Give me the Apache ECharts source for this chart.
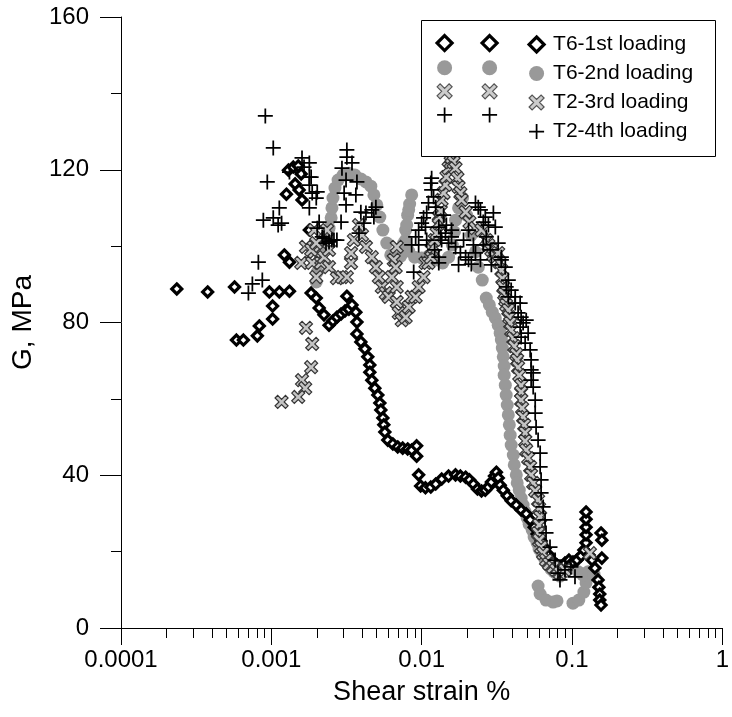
<!DOCTYPE html>
<html><head><meta charset="utf-8">
<script src="https://cdn.jsdelivr.net/npm/echarts@6/dist/echarts.min.js"></script>
<style>html,body{margin:0;padding:0;background:#fff}#c{width:732px;height:717px}</style>
</head><body><div id="c"></div>
<script>
const seriesNames = ['T6-1st loading', 'T6-2nd loading', 'T2-3rd loading', 'T2-4th loading'];
const xTickLabels = ['0.0001', '0.001', '0.01', '0.1', '1'];
const yTickLabels = ['0', '40', '80', '120', '160'];
const minorTickValues = [0.0002,0.0003,0.0004,0.0005,0.0006,0.0007,0.0008,0.0009,
  0.002,0.003,0.004,0.005,0.006,0.007,0.008,0.009,
  0.02,0.03,0.04,0.05,0.06,0.07,0.08,0.09,
  0.2,0.3,0.4,0.5,0.6,0.7,0.8,0.9];

// [shear strain %, G MPa]
const t6First = [
[0.000235,88.8],[0.000377,88.0],[0.000569,89.3],[0.000586,75.4],[0.000652,75.4],[0.000807,76.5],[0.000832,79.1],[0.00102,80.9],[0.00102,84.3],[0.00097,88.0],[0.00113,88.0],[0.00132,88.2],
[0.0013,119.9],[0.0014,120.7],[0.00151,121.0],[0.00158,118.9],[0.00144,116.3],[0.00153,114.7],[0.00126,113.6],[0.0016,112.1],[0.00179,104.2],[0.00122,97.7],[0.00132,95.8],
[0.00184,87.7],[0.00199,86.4],[0.00208,83.8],[0.00224,82.0],[0.00242,79.3],[0.00257,80.4],[0.00273,81.4],[0.00291,82.2],[0.00309,83.0],[0.00328,83.5],[0.00318,86.9],[0.00344,84.6],[0.00365,82.7],[0.00371,80.1],[0.00371,77.0],[0.00394,74.9],[0.00419,73.1],[0.00438,71.0],[0.00452,68.9],[0.00452,67.0],[0.00466,64.9],[0.00488,62.8],[0.00511,61.0],[0.00527,58.9],[0.00535,57.1],[0.00552,55.0],[0.0056,53.2],[0.00569,51.3],[0.00595,49.2],[0.00643,48.2],[0.00693,47.4],[0.00748,47.1],[0.00807,46.9],[0.00858,46.6],[0.00926,47.7],[0.00926,45.0],[0.00955,40.1],[0.00984,37.2],
[0.0106,36.7],[0.0115,36.9],[0.0124,37.7],[0.0136,39.0],[0.0151,39.8],[0.0168,40.1],[0.0181,39.8],[0.0196,39.5],[0.0208,38.8],[0.0221,37.7],[0.0235,36.4],[0.025,35.9],[0.0265,36.1],[0.0278,36.9],[0.0291,38.2],[0.0305,39.8],[0.0314,40.8],[0.0323,39.3],[0.0333,37.4],[0.0349,36.1],[0.0371,34.6],[0.0394,33.3],[0.0426,32.2],[0.0459,30.9],[0.0496,29.9],[0.0527,28.3],[0.056,26.4],[0.0586,24.6],[0.0623,22.8],[0.0662,20.9],[0.0704,19.1],[0.0748,17.5],[0.0795,16.5],[0.0845,16.0],[0.0898,17.0],[0.0955,17.8],[0.1015,17.3],[0.108,17.8],[0.115,18.9],[0.12,20.4],[0.124,22.3],[0.124,24.4],[0.124,26.4],[0.124,28.5],[0.124,30.4],[0.13,19.1],[0.136,17.8],[0.142,15.7],[0.149,12.6],[0.151,10.7],[0.153,8.9],[0.153,7.3],[0.156,6.0],[0.156,24.9],[0.158,23.0],[0.158,18.3]
];
const t6Second = [
[0.00199,90.6],[0.00202,93.2],[0.00208,95.8],[0.00214,98.5],[0.00228,101.6],[0.00242,104.7],[0.0025,107.4],[0.00253,110.0],[0.00257,112.6],[0.00265,115.2],[0.00278,117.3],[0.003,118.6],[0.00328,119.1],[0.0036,118.6],[0.00394,117.6],[0.00426,116.8],[0.00459,115.7],[0.00481,113.4],[0.00503,110.8],[0.00527,107.6],[0.00552,104.2],[0.00586,100.8],[0.00623,97.7],[0.00672,95.8],[0.00726,97.4],[0.0076,100.8],[0.00783,104.2],[0.00807,108.1],[0.00832,111.0],[0.00858,113.4],[0.0082,109.5],[0.00795,105.5],[0.00783,101.6],[0.0082,98.7],[0.00898,97.1],[0.01,96.9],[0.0111,97.4],[0.0124,96.4],[0.0138,95.6],[0.0151,97.1],[0.016,100.3],[0.0165,103.7],[0.0168,106.8],[0.0176,110.0],[0.0187,112.6],[0.0199,108.1],[0.0214,102.9],[0.0228,98.5],[0.0238,94.5],[0.0253,91.1],[0.0269,86.4],[0.0282,84.6],[0.0295,82.7],[0.0309,81.2],[0.0323,79.3],[0.0333,77.2],[0.0339,75.4],[0.0344,73.3],[0.0349,71.0],[0.0354,68.6],[0.0354,66.2],[0.036,63.6],[0.0365,61.0],[0.0371,58.4],[0.0377,55.8],[0.0383,53.2],[0.0388,50.5],[0.0394,47.9],[0.0407,45.3],[0.0413,42.7],[0.0426,40.1],[0.0432,38.0],[0.0446,36.1],[0.0459,34.0],[0.0473,32.2],[0.0488,30.4],[0.0503,28.8],[0.0519,27.2],[0.0543,25.7],[0.056,23.8],[0.0586,22.3],[0.0604,20.7],[0.0633,19.1],[0.0662,17.8],[0.0693,16.5],[0.0726,15.4],[0.076,14.7],[0.0795,14.1],[0.0832,13.6],
[0.0595,11.0],[0.0614,8.9],[0.0672,7.3],[0.0748,6.8],[0.0795,7.1],[0.1015,6.5],[0.111,7.3],[0.12,9.4],[0.124,11.8],[0.118,13.9],[0.11,14.7],[0.128,14.7],[0.14,14.1]
];
const t2Third = [
[0.0017,78.6],[0.00187,74.4],[0.00184,68.3],[0.0016,64.9],[0.00168,62.8],[0.00151,60.5],[0.00117,59.2],
[0.00158,95.6],[0.0017,99.8],[0.00187,95.6],[0.00199,91.9],[0.00193,98.5],[0.00184,99.0],[0.00199,100.8],[0.00193,104.2],[0.00214,95.6],[0.00224,97.1],[0.00242,99.0],[0.00235,104.2],[0.00242,94.5],[0.00273,91.6],[0.00295,91.9],[0.00318,91.9],[0.00339,95.6],[0.00339,98.2],[0.00354,101.6],[0.00383,105.5],[0.00401,102.9],[0.00426,99.8],[0.00466,97.1],[0.00496,94.5],[0.00519,91.9],[0.00543,89.3],[0.00577,87.7],[0.00604,86.7],[0.00633,91.9],[0.00652,96.4],[0.00683,99.8],[0.00672,94.5],[0.00683,89.3],[0.00683,85.4],[0.00704,82.5],[0.00737,80.6],[0.00783,81.4],[0.0082,84.1],[0.00858,86.7],[0.00912,86.7],[0.00955,89.3],
[0.0103,91.9],[0.0106,95.6],[0.0111,95.6],[0.0115,97.1],[0.01165,99.0],[0.012,99.8],[0.0122,101.6],[0.01257,103.4],[0.013,106.0],[0.013,107.6],[0.0134,109.2],[0.01357,112.1],[0.014,113.9],[0.0144,116.0],[0.0146,118.1],[0.0151,120.4],[0.0156,122.0],[0.0158,123.3],[0.0163,122.0],[0.0168,120.4],[0.0173,117.8],[0.0176,115.5],[0.0181,113.9],[0.0184,112.1],[0.0196,108.9],[0.0208,106.3],[0.0228,104.7],[0.025,104.2],[0.0269,101.6],[0.0278,100.3],[0.0291,99.0],[0.03,97.7],[0.0309,97.1],[0.0323,98.2],[0.0328,95.8],
[0.0339,93.7],[0.0344,91.6],[0.0349,89.3],[0.0354,87.5],[0.036,85.9],[0.0365,84.6],[0.0377,83.3],[0.0383,81.4],[0.0388,79.9],[0.0394,78.0],[0.0407,75.9],[0.0413,73.8],[0.0426,71.7],[0.0432,70.2],[0.0438,68.3],[0.0446,66.2],[0.0459,63.6],[0.0459,61.8],[0.0459,59.7],[0.0466,57.6],[0.0473,55.3],[0.0481,53.2],[0.0488,51.1],[0.0488,49.0],[0.0496,46.6],[0.0511,44.5],[0.0527,42.2],[0.0535,40.1],[0.0552,38.0],[0.0569,35.9],[0.0595,33.5],[0.0604,31.4],[0.0614,29.1],[0.0604,27.0],[0.0595,24.9],[0.0604,23.0],[0.0623,21.2],[0.0643,19.6],[0.0672,17.8],[0.0704,16.8],[0.0748,16.0],[0.0783,15.2],[0.0832,14.4],[0.0898,15.2],[0.1316,19.6]
];
const t2Fourth = [
[0.000912,134.1],[0.00103,125.7],[0.00094,116.8],[0.00113,110.0],[0.000885,106.8],[0.00103,107.4],[0.00111,105.5],[0.00082,95.8],[0.000748,90.1],[0.000871,91.1],[0.000704,87.7],
[0.0016,123.1],[0.00179,121.8],[0.00165,120.7],[0.00132,119.4],[0.00184,118.1],[0.00179,116.0],[0.00202,114.2],[0.00199,112.6],[0.00179,110.0],[0.00187,113.9],[0.00208,106.3],[0.00202,104.7],[0.00218,102.4],[0.00231,100.8],[0.00253,101.6],[0.00273,101.6],[0.00291,106.3],[0.00318,125.2],[0.00318,123.3],[0.00344,121.8],[0.00295,120.4],[0.00314,117.3],[0.00371,116.8],[0.00305,113.9],[0.00365,113.4],[0.00314,110.8],[0.00394,108.9],[0.00426,108.7],[0.00466,109.5],[0.00496,110.2],[0.00481,107.6],[0.00413,106.0],[0.00383,103.4],[0.00224,102.1],[0.00242,101.1],[0.00261,101.6],[0.00179,118.1],[0.00117,106.0],
[0.00885,93.2],[0.00858,100.3],[0.00912,102.4],[0.00955,100.3],[0.00955,104.2],[0.01,106.0],[0.0103,107.4],[0.0106,105.0],[0.0108,108.7],[0.0108,101.6],[0.0111,111.3],[0.0115,116.5],[0.01165,117.8],[0.01165,114.7],[0.012,112.9],[0.0122,99.0],[0.0124,110.2],[0.013,105.0],[0.01357,101.6],[0.013,97.1],[0.013,95.6],[0.0134,102.4],[0.014,108.1],[0.0146,105.5],[0.0144,103.4],[0.0151,100.8],[0.0158,104.2],[0.0158,102.4],[0.0168,99.8],[0.0176,95.1],[0.0181,98.2],[0.019,101.6],[0.0196,97.1],[0.0205,96.4],[0.0205,104.2],[0.0214,95.3],[0.0221,100.3],[0.0228,98.2],[0.0228,111.3],[0.0238,110.2],[0.0246,109.5],[0.0246,96.4],[0.0257,106.3],[0.0257,100.3],[0.0265,107.6],[0.0269,102.4],[0.0278,105.5],[0.0286,99.0],[0.0291,95.1],[0.03,108.7],[0.0309,105.0],[0.0323,100.8],[0.0339,97.1],[0.0339,96.4],[0.036,94.5],[0.0365,89.3],[0.0377,91.1],[0.0377,86.7],[0.0394,88.5],[0.0419,86.7],[0.0419,85.1],[0.0438,82.5],[0.0452,85.1],[0.0459,81.4],[0.0452,78.8],[0.0473,79.9],[0.0459,76.2],[0.0488,74.6],[0.0496,80.6],[0.0511,77.2],[0.0527,72.8],[0.0535,70.2],[0.0535,67.6],[0.0535,64.9],[0.0552,66.8],[0.0552,63.1],[0.0569,59.7],[0.0569,56.3],[0.0577,52.6],[0.0595,49.2],[0.0614,45.8],[0.0614,42.2],[0.0623,38.8],[0.0623,35.4],[0.0643,31.7],[0.0662,28.3],[0.0672,24.9],[0.0714,21.2],[0.0772,17.8],[0.0807,14.4],[0.0832,12.6],[0.0898,15.2],[0.0984,16.0],[0.1047,13.4]
];

const XSHAPE = 'path://M-6,-3.6L-3.6,-6L0,-2.4L3.6,-6L6,-3.6L2.4,0L6,3.6L3.6,6L0,2.4L-3.6,6L-6,3.6L-2.4,0Z';
const PLUS = 'path://M-6,-0.7H-0.7V-6H0.7V-0.7H6V0.7H0.7V6H-0.7V0.7H-6Z';
const FONT = "'Liberation Sans', Arial, sans-serif";

const chart = echarts.init(document.getElementById('c'), null, {renderer: 'canvas'});

function legendAt(left, showText) {
  return {
    data: [
      {name: seriesNames[0], itemStyle: {borderWidth: 3.2, borderColor: '#000', color: '#fff'}},
      {name: seriesNames[1]},
      {name: seriesNames[2], itemStyle: {borderWidth: 1.2, borderColor: '#555', color: '#cccccc'}},
      {name: seriesNames[3]}
    ],
    orient: 'vertical',
    left: left,
    top: 34,
    padding: 0,
    itemWidth: 15,
    itemHeight: 15,
    itemGap: 8,
    selectedMode: false,
    z: 6,
    formatter: showText ? '{name}' : () => '',
    textStyle: {fontSize: 21, fontFamily: FONT, color: '#000', padding: [0, 0, 0, 4]}
  };
}

chart.setOption({
  animation: false,
  backgroundColor: '#fff',
  grid: {left: 121, right: 7, top: 17, bottom: 89, containLabel: false},
  legend: [legendAt(435.5, false), legendAt(480.5, false), legendAt(527.5, true)],
  graphic: [{
    type: 'rect', z: 5, left: 421, top: 20,
    shape: {x: 0, y: 0, width: 294, height: 136},
    style: {fill: '#fff', stroke: '#000', lineWidth: 1}
  }],
  xAxis: {
    type: 'log', logBase: 10, min: 0.0001, max: 1,
    name: 'Shear strain %', nameLocation: 'middle', nameGap: 51,
    nameTextStyle: {fontSize: 27, fontFamily: FONT, color: '#000'},
    axisLine: {show: true, onZero: false, lineStyle: {color: '#000', width: 1}},
    axisTick: {show: true, inside: false, length: 17, lineStyle: {color: '#000'}},
    axisLabel: {
      margin: 20, fontSize: 24, fontFamily: FONT, color: '#000',
      formatter: v => xTickLabels[Math.round(Math.log10(v)) + 4] || ''
    },
    splitLine: {show: false}
  },
  yAxis: {
    type: 'value', min: 0, max: 160, interval: 40,
    name: 'G, MPa', nameLocation: 'middle', nameGap: 84, nameRotate: 90,
    nameTextStyle: {fontSize: 28, fontFamily: FONT, color: '#000'},
    axisLine: {show: true, lineStyle: {color: '#000', width: 1}},
    axisTick: {show: true, inside: false, length: 21, lineStyle: {color: '#000'}},
    minorTick: {show: true, splitNumber: 2, length: 10, lineStyle: {color: '#000'}},
    axisLabel: {
      margin: 32, fontSize: 24, fontFamily: FONT, color: '#000',
      formatter: v => yTickLabels[Math.round(v / 40)] || ''
    },
    splitLine: {show: false}
  },
  series: [
    {
      name: seriesNames[0], type: 'scatter', data: t6First, z: 3,
      symbol: 'diamond', symbolSize: 10,
      itemStyle: {color: '#fff', borderColor: '#000', borderWidth: 3.2, opacity: 1}
    },
    {
      name: seriesNames[1], type: 'scatter', data: t6Second, z: 2,
      symbol: 'circle', symbolSize: 13,
      itemStyle: {color: '#999999', opacity: 1}
    },
    {
      name: seriesNames[2], type: 'scatter', data: t2Third, z: 4,
      symbol: XSHAPE, symbolSize: 13,
      itemStyle: {color: '#c4c4c4', borderColor: '#333', borderWidth: 1.2, opacity: 1}
    },
    {
      name: seriesNames[3], type: 'scatter', data: t2Fourth, z: 4,
      symbol: PLUS, symbolSize: 15,
      itemStyle: {color: '#000', opacity: 1}
    },
    {
      name: 'minor ticks', type: 'custom', silent: true, clip: false, z: 1,
      data: minorTickValues.map(v => [v, 0]),
      renderItem: function (params, api) {
        const p = api.coord([api.value(0), 0]);
        const x = Math.round(p[0]) + 0.5;
        return {type: 'line', shape: {x1: x, y1: p[1], x2: x, y2: p[1] + 10},
                style: {stroke: '#000', lineWidth: 1}};
      }
    }
  ]
});
</script>
</body></html>
